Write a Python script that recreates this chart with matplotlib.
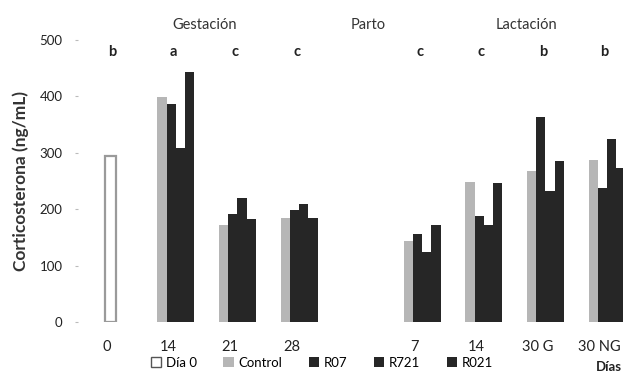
import numpy as np
import matplotlib
matplotlib.use("Agg")
import matplotlib.pyplot as plt
from matplotlib.patches import Patch

plt.rcParams["font.family"] = ["Lato", "DejaVu Sans"]

categories = ["0", "14", "21", "28", "", "7", "14", "30 G", "30 NG"]
dia0 = [295]
control = [np.nan, 399, 172, 184, np.nan, 144, 248, 267, 288]
r07 = [np.nan, 386, 191, 198, np.nan, 156, 188, 363, 237]
r721 = [np.nan, 308, 220, 209, np.nan, 124, 172, 232, 324]
r021 = [np.nan, 444, 182, 184, np.nan, 172, 246, 285, 273]
letters = ["b", "a", "c", "c", "", "c", "c", "b", "b"]
phases = [("Gestación", 1.58), ("Parto", 4.24), ("Lactación", 6.82)]

fig = plt.figure(figsize=(6.23, 3.77), dpi=100)
ax = fig.add_axes([78 / 623, 55 / 377, 545 / 623, 282 / 377])

x = np.arange(len(categories))
w = 0.15
shift = 0.12
ax.bar([0.06], dia0, width=0.17, color="white", edgecolor="#9a9a9a", linewidth=1.6, zorder=2)
series = [(control, "#b6b6b6"), (r07, "#262626"), (r721, "#262626"), (r021, "#262626")]
for k, (vals, col) in enumerate(series):
    ax.bar(x + shift + (k - 1.5) * w, vals, width=w, color=col, linewidth=0, zorder=2)

ax.set_xlim(-0.47, 8.38)
ax.set_ylim(0, 500)
ax.set_yticks([0, 100, 200, 300, 400, 500])
ax.set_xticks(x)
ax.set_xticklabels(categories, fontsize=10.5, color="#222222")
ax.tick_params(axis="x", length=0, pad=13)
ax.tick_params(axis="y", length=2, width=0.8, color="#bbbbbb", labelsize=9.5, pad=9, labelcolor="#222222")
for s in ax.spines.values():
    s.set_visible(False)

ax.set_ylabel("Corticosterona (ng/mL)", fontsize=12.5, fontweight="bold", color="#333333", labelpad=8)

for i, lt in enumerate(letters):
    if lt:
        ax.text(i + 0.08, 478, lt, ha="center", va="center", fontsize=10.5, fontweight="bold", color="#222222")
for name, px in phases:
    ax.text(px, 527, name, ha="center", va="center", fontsize=10.5, color="#333333", clip_on=False)

handles = [
    Patch(facecolor="white", edgecolor="#555555", label="Día 0"),
    Patch(facecolor="#b6b6b6", label="Control"),
    Patch(facecolor="#262626", label="R07"),
    Patch(facecolor="#262626", label="R721"),
    Patch(facecolor="#262626", label="R021"),
]
fig.legend(handles=handles, loc="center", bbox_to_anchor=(322 / 623, 1 - 363 / 377), ncol=5,
           frameon=False, fontsize=9.5, handlelength=0.8, handleheight=0.8, handletextpad=0.35,
           columnspacing=2.0, borderpad=0, borderaxespad=0)
fig.text(609 / 623, 1 - 367 / 377, "Días", ha="center", va="center", fontsize=9.5,
         fontweight="bold", color="#222222")

fig.savefig("out.png", dpi=100)
